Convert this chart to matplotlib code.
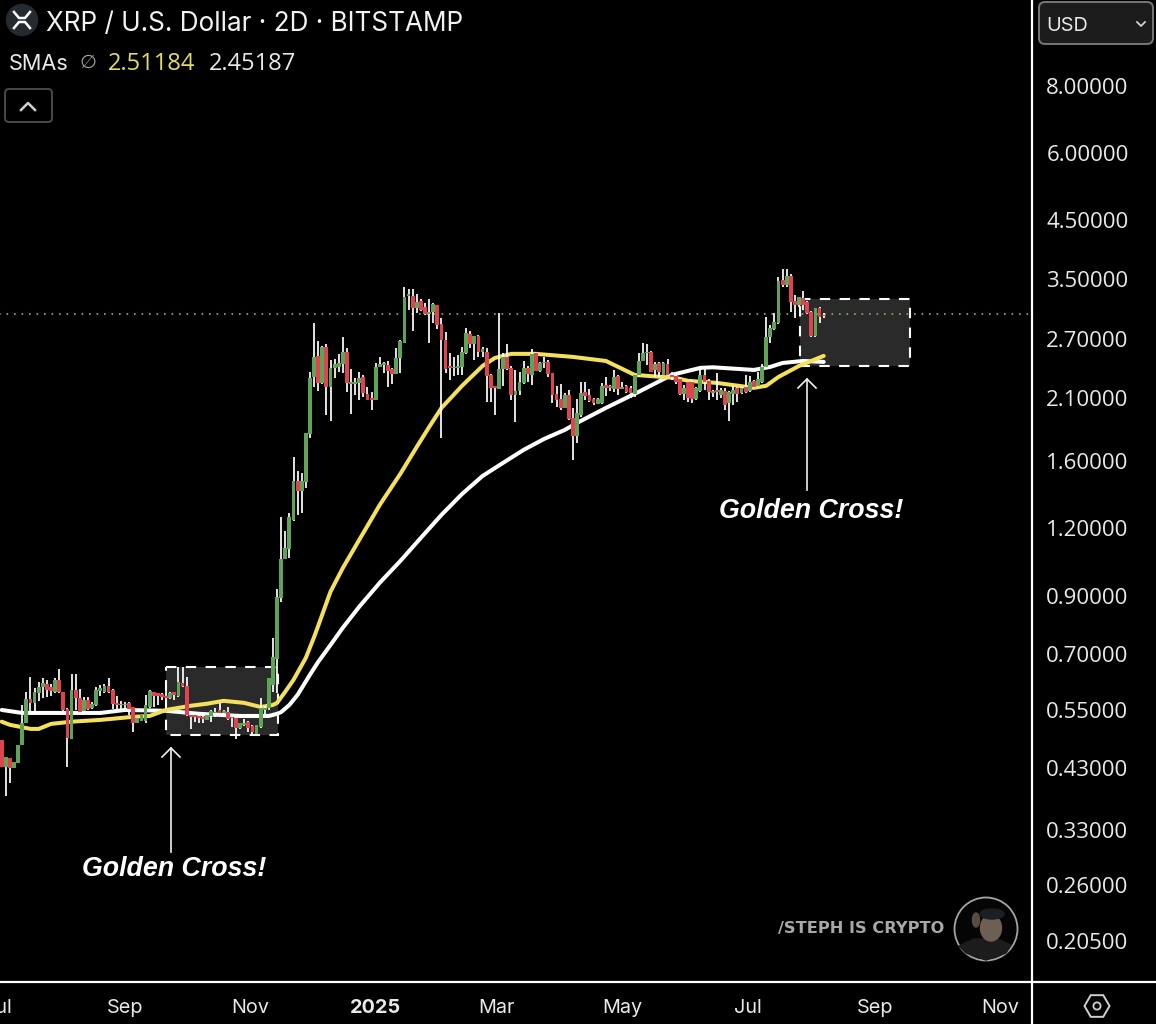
import matplotlib
matplotlib.use("Agg")
import matplotlib.pyplot as plt
import matplotlib.transforms as mtrans
from matplotlib.patches import Rectangle, FancyBboxPatch, Circle, Ellipse, Polygon
from matplotlib.ticker import NullLocator
import pandas as pd
import numpy as np

plt.rcParams['font.family'] = ['Inter', 'Liberation Sans', 'DejaVu Sans']
NUM = ['Open Sans', 'DejaVu Sans']

opens = [.485,.432,.449,.430,.438,.475,.522,.578,.568,.593,.609,.617,.609,.596,.627,.596,.553,.487,.601,.581,
 .549,.576,.556,.563,.598,.596,.611,.601,.568,.563,.563,.568,.558,.522,.526,.526,.558,.596,.593,.591,
 .586,.581,.596,.586,.619,.611,.540,.540,.537,.535,.528,.537,.544,.551,.544,.546,.535,.533,.511,.517,
 .524,.515,.498,.513,.551,.556,.614,.686,.891,1.054,1.100,1.245,1.472,1.410,1.466,1.800,2.298,2.515,2.240,2.613,
 2.202,2.389,2.399,2.430,2.558,2.231,2.231,2.240,2.298,2.137,2.100,2.082,2.399,2.420,2.420,2.378,2.328,2.493,2.658,3.252,
 3.252,3.089,3.184,3.102,3.010,3.036,3.130,2.884,2.693,2.409,2.389,2.389,2.399,2.547,2.764,2.647,2.740,2.558,2.558,2.318,
 2.212,2.183,2.378,2.504,2.389,2.128,2.165,2.240,2.389,2.318,2.547,2.358,2.440,2.451,2.338,2.137,2.091,2.012,2.128,1.927,
 1.785,1.953,2.156,2.128,2.091,2.046,2.055,2.221,2.212,2.183,2.308,2.183,2.212,2.193,2.137,2.318,2.461,2.547,2.558,2.368,
 2.440,2.318,2.430,2.318,2.308,2.279,2.137,2.250,2.250,2.091,2.165,2.318,2.260,2.147,2.174,2.128,2.165,2.055,2.137,2.193,
 2.147,2.202,2.165,2.260,2.212,2.250,2.399,2.728,2.823,2.896,3.483,3.410,3.543,3.184,3.130,3.224,3.170,3.036,2.740,3.089,
 2.997]
highs = [.485,.451,.449,.440,.475,.563,.596,.635,.606,.622,.632,.627,.617,.632,.658,.596,.556,.644,.644,.604,
 .583,.583,.571,.609,.614,.617,.632,.604,.586,.573,.571,.571,.558,.533,.540,.588,.601,.596,.593,.593,
 .614,.596,.596,.663,.663,.635,.540,.542,.540,.537,.540,.551,.556,.568,.551,.558,.540,.535,.522,.530,
 .526,.517,.517,.581,.561,.632,.750,.926,1.261,1.188,1.283,1.631,1.536,1.523,1.807,2.348,2.896,2.681,2.625,2.647,
 2.472,2.483,2.537,2.728,2.602,2.378,2.288,2.348,2.318,2.202,2.156,2.440,2.504,2.451,2.461,2.389,2.602,2.693,3.380,3.351,
 3.351,3.280,3.210,3.157,3.210,3.157,3.130,2.960,2.787,2.547,2.504,2.526,2.613,2.835,2.799,2.740,2.752,2.613,2.602,2.328,
 2.212,3.023,2.547,2.647,2.409,2.368,2.348,2.461,2.409,2.591,2.558,2.451,2.504,2.472,2.338,2.212,2.231,2.147,2.174,2.012,
 2.091,2.250,2.250,2.183,2.100,2.100,2.240,2.298,2.221,2.368,2.318,2.250,2.221,2.212,2.318,2.547,2.658,2.647,2.569,2.451,
 2.451,2.451,2.483,2.348,2.348,2.288,2.221,2.260,2.269,2.202,2.399,2.389,2.279,2.174,2.338,2.193,2.193,2.165,2.212,2.202,
 2.202,2.318,2.308,2.269,2.348,2.430,2.973,2.871,3.023,3.528,3.651,3.651,3.573,3.266,3.238,3.323,3.184,3.050,3.089,3.102,
 3.023]
lows = [.432,.381,.403,.430,.438,.475,.522,.546,.546,.573,.581,.583,.586,.593,.593,.546,.432,.487,.551,.544,
 .546,.551,.553,.561,.586,.593,.593,.553,.551,.551,.551,.540,.502,.522,.526,.522,.556,.558,.563,.576,
 .576,.578,.576,.583,.609,.537,.508,.524,.522,.522,.528,.524,.535,.537,.542,.528,.513,.487,.508,.515,
 .502,.492,.496,.511,.540,.551,.596,.593,.876,1.054,1.058,1.240,1.272,1.283,1.428,1.770,2.202,2.165,2.231,1.953,
 1.903,2.288,2.348,2.338,2.156,1.961,2.128,2.082,2.110,2.082,1.995,2.082,2.399,2.338,2.202,2.231,2.328,2.338,2.658,3.063,
 2.799,3.023,3.050,2.997,2.658,2.896,2.823,1.770,2.338,2.269,2.308,2.318,2.318,2.537,2.602,2.472,2.504,2.504,2.064,2.064,
 1.953,2.183,2.212,2.368,2.082,1.895,2.128,2.231,2.250,2.221,2.358,2.348,2.389,2.298,2.055,2.020,1.995,2.012,1.911,1.610,
 1.731,1.936,2.082,2.064,2.038,2.046,2.046,2.119,2.165,2.156,2.128,2.183,2.147,2.100,2.110,2.298,2.461,2.420,2.348,2.298,
 2.298,2.318,2.308,2.269,2.231,2.128,2.082,2.064,2.055,2.082,2.156,2.174,2.082,2.110,2.082,2.100,1.995,1.903,2.038,2.064,
 2.137,2.147,2.156,2.193,2.212,2.240,2.389,2.658,2.811,2.884,3.380,3.380,3.036,2.960,3.102,3.063,3.010,2.728,2.728,2.896,
 2.960]
closes = [.432,.451,.430,.440,.475,.522,.578,.568,.596,.609,.619,.601,.598,.627,.596,.551,.489,.601,.581,.546,
 .576,.553,.566,.601,.606,.611,.596,.566,.563,.566,.566,.553,.522,.533,.540,.563,.598,.586,.586,.583,
 .581,.593,.588,.622,.611,.540,.535,.535,.533,.530,.540,.549,.546,.544,.549,.530,.533,.511,.522,.522,
 .511,.502,.517,.556,.556,.632,.692,.895,1.054,1.105,1.261,1.472,1.410,1.472,1.807,2.288,2.504,2.240,2.613,2.202,
 2.389,2.430,2.440,2.558,2.240,2.250,2.250,2.288,2.147,2.082,2.082,2.399,2.430,2.440,2.358,2.328,2.493,2.681,3.238,3.280,
 3.089,3.170,3.063,3.010,3.036,3.143,2.871,2.693,2.378,2.389,2.399,2.409,2.558,2.776,2.647,2.740,2.558,2.591,2.308,2.193,
 2.193,2.378,2.504,2.378,2.128,2.165,2.250,2.389,2.328,2.537,2.358,2.440,2.451,2.328,2.128,2.082,2.012,2.128,1.919,1.785,
 1.970,2.147,2.119,2.073,2.055,2.091,2.212,2.193,2.193,2.298,2.183,2.202,2.156,2.147,2.318,2.461,2.547,2.558,2.348,2.430,
 2.348,2.440,2.318,2.298,2.250,2.137,2.193,2.100,2.091,2.193,2.318,2.250,2.156,2.165,2.156,2.174,2.038,2.156,2.174,2.137,
 2.193,2.156,2.250,2.202,2.279,2.399,2.728,2.835,2.909,3.468,3.410,3.543,3.170,3.130,3.238,3.130,3.023,2.740,3.089,2.973,
 2.985]

candle_start = '2024-07-03'
current_price = 3.01

white_idx = [0,5,15,24,30,40,48,58,65,67,68,70,72,75,77,80,83,87,92,97,102,107,112,117,122,127,132,137,140,147,155,163,170,173,183,187,190,195,200]
white_sma = [.551,.544,.544,.544,.551,.549,.542,.537,.537,.542,.546,.563,.588,.641,.677,.728,.784,.858,.951,1.044,1.153,1.272,1.391,1.503,1.590,1.681,1.762,1.831,1.887,2.012,2.156,2.318,2.389,2.395,2.368,2.399,2.440,2.461,2.451]
yellow_idx = [0,2,7,9,12,17,24,32,36,40,46,50,54,59,63,66,67,69,71,74,76,77,80,83,87,92,97,101,104,107,112,117,120,124,130,139,147,150,154,164,167,174,183,186,189,194,200]
yellow_sma = [.524,.517,.508,.508,.519,.524,.528,.535,.537,.551,.561,.566,.573,.568,.558,.563,.568,.596,.627,.689,.753,.790,.915,1.013,1.143,1.328,1.517,1.703,1.854,2.012,2.212,2.409,2.493,2.537,2.537,2.504,2.461,2.399,2.318,2.288,2.260,2.240,2.193,2.212,2.298,2.409,2.515]

y_ticks = [8.0,6.0,4.5,3.5,2.7,2.1,1.6,1.2,0.9,0.7,0.55,0.43,0.33,0.26,0.205]
x_tick_dates = ['2024-07-01','2024-09-01','2024-11-01','2025-01-01','2025-03-01','2025-05-01','2025-07-01','2025-09-01','2025-11-01']
x_tick_labels = ['Jul','Sep','Nov','2025','Mar','May','Jul','Sep','Nov']

W, H = 1156, 1024
BG = '#000000'; GREEN = '#5fa356'; RED = '#de4450'; YELLOW = '#f5e05c'; TXT = '#e9e9e9'

fig = plt.figure(figsize=(W/100, H/100), dpi=100, facecolor=BG)
ax = fig.add_axes([-10/W, (H-982)/H, 1041/W, 982/H], facecolor=BG)
px = mtrans.Affine2D().scale(1, -1).translate(0, H)

dates = pd.date_range(candle_start, periods=len(opens), freq='2D')
o, h, l, c = map(np.array, (opens, highs, lows, closes))
up = c >= o
ax.vlines(dates, l, h, color='#ffffff', lw=1.25, zorder=5)
bar_bot = np.minimum(o, c); bar_h = np.abs(c - o)
ax.bar(dates, bar_h, bottom=bar_bot, width=1.85, color=[GREEN if u else RED for u in up], lw=0, zorder=6)
ax.axhline(current_price, color='#78c060', lw=1.2, ls=(0, (1, 3.5)), zorder=2)
ax.plot(dates[white_idx], white_sma, color='#ffffff', lw=2.9, zorder=4, solid_capstyle='round')
ax.plot(dates[yellow_idx], yellow_sma, color=YELLOW, lw=2.9, zorder=4.1, solid_capstyle='round')

ax.set_yscale('log')
ax.set_ylim(0.1716, 11.57)
base = pd.Timestamp('2024-09-01')
ax.set_xlim(base + pd.Timedelta(days=(-10-125)/2.055), base + pd.Timedelta(days=(1031-125)/2.055))
ax.yaxis.tick_right()
ax.set_yticks(y_ticks)
ax.set_yticklabels([f'{v:.5f}' for v in y_ticks], family=NUM)
ax.yaxis.set_minor_locator(NullLocator())
ax.set_xticks(pd.to_datetime(x_tick_dates))
ax.set_xticklabels(x_tick_labels)
ax.xaxis.set_minor_locator(NullLocator())
ax.tick_params(axis='y', length=0, pad=11, labelsize=16, labelcolor=TXT)
ax.tick_params(axis='x', length=0, pad=12, labelsize=14.3, labelcolor=TXT)
for t, s in zip(ax.get_xticklabels(), x_tick_labels):
    if s == '2025':
        t.set_fontweight('bold')
for s in ax.spines.values():
    s.set_visible(False)

def fline(xs, ys, color='#ffffff', lw=1.4, z=20, **kw):
    fig.add_artist(plt.Line2D(xs, ys, transform=px, color=color, lw=lw, zorder=z, **kw))

# panel borders
fline([1032, 1032], [0, 1024], lw=1.6)
fline([0, W], [982, 982], lw=1.6)

# highlighted zones (behind the candles)
for x0, y0, x1, y1 in [(166, 667, 278, 735), (800, 299, 910, 366)]:
    ax.add_patch(Rectangle((x0, y0), x1-x0, y1-y0, transform=px, facecolor='#2a2a2a',
                           edgecolor='#ffffff', lw=1.5, ls=(0, (5, 4.5)), zorder=1, clip_on=False))

# arrows
for x, y0, y1 in [(171, 852, 748), (807, 490, 379)]:
    fline([x, x], [y0, y1], color='#f0f0f0', lw=1.2)
    fline([x-9, x, x+9], [y1+9, y1, y1+9], color='#f0f0f0', lw=1.2)
for x, y in [(174, 869), (811, 511)]:
    fig.text(x/W, 1-y/H, 'Golden Cross!', color='#ffffff', fontsize=19.3, fontweight='bold',
             fontstyle='italic', family=['Liberation Sans'], ha='center', va='center')

# header
fig.add_artist(Circle((22, 20), 15.5, transform=px, color='#252a2e', zorder=20))
for dy in (1, -1):
    xs = np.array([14, 19, 25, 30])
    ys = 20 + dy*np.array([8, 2, 2, 8])
    fline(xs, ys, color='#ffffff', lw=1.8, z=21)
fig.text(46/W, 1-24/H, 'XRP / U.S. Dollar · 2D · BITSTAMP', color='#f2f2f2', fontsize=18.8, va='center', ha='left')
fig.text(9/W, 1-64/H, 'SMAs', color=TXT, fontsize=15.6, va='center', ha='left')
fig.text(88/W, 1-62/H, '∅', color='#a0a0a0', fontsize=14, va='center', ha='center', family=['DejaVu Sans'])
fig.text(108/W, 1-64/H, '2.51184', color='#e6dc64', fontsize=17, va='center', ha='left', family=NUM)
fig.text(209/W, 1-64/H, '2.45187', color=TXT, fontsize=17, va='center', ha='left', family=NUM)
fig.add_artist(FancyBboxPatch((5, 89), 47, 33, boxstyle='round,pad=0,rounding_size=4', transform=px,
                              facecolor='#000000', edgecolor='#4a4a4a', lw=1.4, zorder=20))
fline([21, 28, 35], [110, 103, 110], color='#cfcfcf', lw=1.8, z=21)

# currency button
fig.add_artist(FancyBboxPatch((1039, 2), 114, 42, boxstyle='round,pad=0,rounding_size=6', transform=px,
                              facecolor='#1c1c1c', edgecolor='#777777', lw=1.4, zorder=20))
fig.text(1046/W, 1-26/H, 'USD', color=TXT, fontsize=14.3, va='center', ha='left', zorder=21)
fline([1137, 1141, 1145], [22, 26, 22], color='#d0d0d0', lw=1.3, z=21)

# settings icon
hx = 1097 + 12.5*np.cos(np.arange(6)*np.pi/3)
hy = 1006 + 12.5*np.sin(np.arange(6)*np.pi/3)
fig.add_artist(Polygon(np.c_[hx, hy], closed=True, transform=px, fill=False, edgecolor='#d0d0d0', lw=1.4, zorder=20))
fig.add_artist(Circle((1097, 1006), 3.6, transform=px, fill=False, edgecolor='#d0d0d0', lw=1.3, zorder=20))

# watermark
fig.text(778/W, 1-929/H, '/STEPH IS CRYPTO', color='#a8a8a8', fontsize=11.7, fontweight='bold',
         family=['DejaVu Sans'], va='center', ha='left', zorder=20)
fig.add_artist(Circle((986, 929), 31.5, transform=px, facecolor='#050505', edgecolor='#a5a5a5', lw=1.3, zorder=20))
fig.add_artist(Polygon([(959, 946), (974, 939), (998, 939), (1011, 945), (1006, 953), (986, 960), (966, 953)],
                       closed=True, transform=px, color='#1c1c1c', zorder=21))
fig.add_artist(Ellipse((991, 928), 21, 26, transform=px, color='#6f5e52', zorder=21))
fig.add_artist(Ellipse((992, 914), 24, 10, transform=px, color='#1a1f24', zorder=22))
fig.add_artist(Ellipse((976, 920), 7, 14, transform=px, color='#5a4c42', zorder=21))

fig.savefig('out.png', dpi=100, facecolor=BG)
